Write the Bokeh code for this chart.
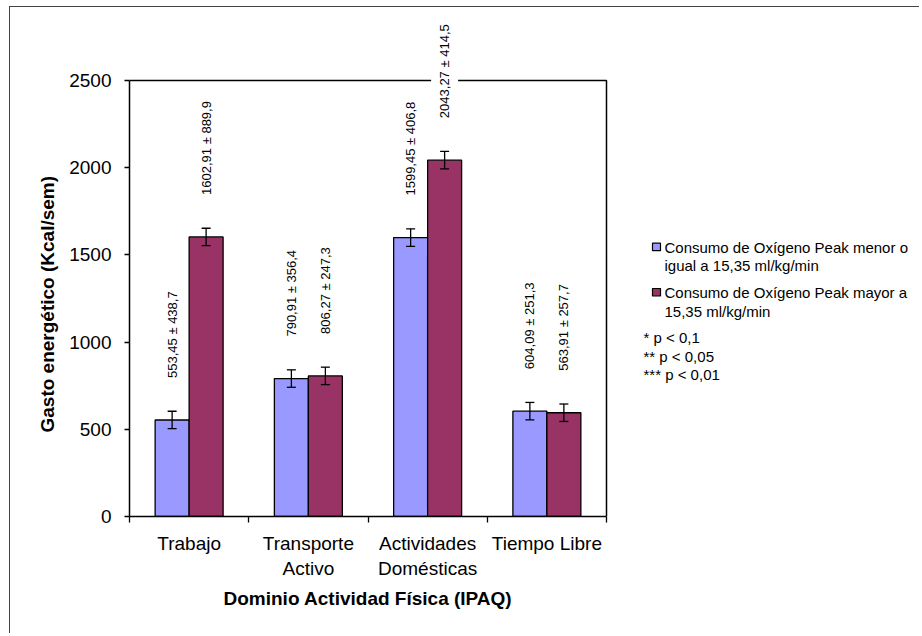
import numpy as np
from bokeh.plotting import figure
from bokeh.models import FixedTicker, Label, Range1d, Title
from bokeh.embed import file_html
from bokeh.resources import INLINE

# ---------------- data ----------------
categories = ["Trabajo", "Transporte\nActivo", "Actividades\nDomésticas", "Tiempo Libre"]
series_low_name = ["Consumo de Oxígeno Peak menor o", "igual a 15,35 ml/kg/min"]
series_high_name = ["Consumo de Oxígeno Peak mayor a", "15,35 ml/kg/min"]
mean_low = [553.45, 790.91, 1599.45, 604.09]
sd_low = [438.7, 356.4, 406.8, 251.3]
mean_high = [1602.91, 806.27, 2043.27, 563.91]
sd_high = [889.9, 247.3, 414.5, 257.7]
bar_low = [553.45, 790.91, 1599.45, 604.09]     # plotted bar heights
bar_high = [1602.91, 806.27, 2043.27, 595.0]
error_bar = 50
y_ticks = [0, 500, 1000, 1500, 2000, 2500]
notes = ["* p < 0,1", "** p < 0,05", "*** p < 0,01"]
x_title = "Dominio Actividad Física (IPAQ)"
y_title = "Gasto energético (Kcal/sem)"

# ---------------- layout (page pixels) ----------------
OX, OY = 10, 7                      # canvas origin on page (after margin + border)
W, H = 910, 627
PA_L, PA_R, PA_T, PA_B = 129, 606, 80, 516   # plot area
YMAX = 2500
NC = len(categories)
FONT = "Liberation Sans"
BLUE, PURPLE = "#9999FF", "#993366"


def dx(px):
    return (px - PA_L) / (PA_R - PA_L) * NC


def dy(py):
    return (PA_B - py) / (PA_B - PA_T) * YMAX


p = figure(width=W, height=H,
           x_range=Range1d(0, dx(OX + W)), y_range=Range1d(0, dy(OY)),
           output_backend="svg", toolbar_location=None,
           min_border_left=PA_L - OX, min_border_top=0,
           min_border_right=0, min_border_bottom=H - (PA_B - OY))
p.styles = {"margin-left": "9px", "margin-top": "6px",
            "border-left": "1px solid #444444", "border-top": "1px solid #444444"}
p.background_fill_color = "white"
p.border_fill_color = "white"
p.outline_line_color = None
p.xgrid.grid_line_color = None
p.ygrid.grid_line_color = None

# plot-area border (top and right)
p.line(x=[0, NC, NC], y=[YMAX, YMAX, 0], line_color="black", line_width=1.5)

bw = 0.285
x_low = [i + 0.5 - bw / 2 for i in range(NC)]
x_high = [i + 0.5 + bw / 2 for i in range(NC)]

p.vbar(x=x_low, top=bar_low, width=bw, fill_color=BLUE, line_color="black", line_width=1.3)
p.vbar(x=x_high, top=bar_high, width=bw, fill_color=PURPLE, line_color="black", line_width=1.3)

cw = 4.5 / (PA_R - PA_L) * NC
for xs, tops in ((x_low, bar_low), (x_high, bar_high)):
    xs = np.array(xs)
    t = np.array(tops)
    p.segment(x0=xs, y0=t - error_bar, x1=xs, y1=t + error_bar, line_color="black", line_width=1.3)
    p.segment(x0=xs - cw, y0=t + error_bar, x1=xs + cw, y1=t + error_bar, line_color="black", line_width=1.3)
    p.segment(x0=xs - cw, y0=t - error_bar, x1=xs + cw, y1=t - error_bar, line_color="black", line_width=1.3)


def fmt(m, s):
    return f"{m:.2f}".replace(".", ",") + " ± " + f"{s:.1f}".replace(".", ",")


for xs, tops, ms, ss in ((x_low, bar_low, mean_low, sd_low), (x_high, bar_high, mean_high, sd_high)):
    for x, t, m, s in zip(xs, tops, ms, ss):
        p.add_layout(Label(x=x, y=t, text=fmt(m, s), angle=np.pi / 2, angle_units="rad",
                           text_align="left", text_baseline="middle", y_offset=36,
                           padding=6, background_fill_color="white",
                           text_font=FONT, text_font_size="13px", text_color="black"))

# axes
p.xaxis.bounds = (0, NC)
p.xaxis.ticker = FixedTicker(ticks=[i + 0.5 for i in range(NC)], minor_ticks=list(range(NC + 1)))
p.xaxis.major_label_overrides = {i + 0.5: c for i, c in enumerate(categories)}
p.xaxis.major_tick_line_color = None
p.xaxis.major_tick_out = 6
p.xaxis.major_tick_in = 0
p.xaxis.minor_tick_out = 6
p.xaxis.minor_tick_in = 0
p.xaxis.minor_tick_line_color = "black"
p.xaxis.minor_tick_line_width = 1.3
p.xaxis.major_label_standoff = 10

p.yaxis.bounds = (0, YMAX)
p.yaxis.ticker = FixedTicker(ticks=y_ticks)
p.yaxis.major_tick_out = 5
p.yaxis.major_tick_in = 0
p.yaxis.minor_tick_line_color = None
p.yaxis.major_label_standoff = 13

for ax in (p.xaxis[0], p.yaxis[0]):
    ax.axis_line_color = "black"
    ax.axis_line_width = 1.5
    ax.major_tick_line_width = 1.3
    ax.major_label_text_font = FONT
    ax.major_label_text_font_size = "19px"
    ax.major_label_text_color = "black"

# axis titles placed relative to the plot area (frame is extended for legend/labels)
p.add_layout(Title(text=x_title, align="left", offset=94, standoff=8,
                   text_font=FONT, text_font_size="19px", text_font_style="bold",
                   text_color="black"), "below")
p.add_layout(Title(text=y_title, align="left", offset=84, standoff=18,
                   text_font=FONT, text_font_size="19px", text_font_style="bold",
                   text_color="black"), "left")

# legend (manual, inside the extended frame)
leg_items = ((BLUE, series_low_name, 242.7), (PURPLE, series_high_name, 288.0))
for color, lines, sq_top in leg_items:
    p.quad(left=dx(652), right=dx(660), top=dy(sq_top), bottom=dy(sq_top + 7.5),
           fill_color=color, line_color="black", line_width=1.2)
    for k, line in enumerate(lines):
        p.add_layout(Label(x=dx(664), y=dy(sq_top + 4 + 18.5 * k), text=line, text_align="left",
                           text_baseline="middle", text_font=FONT, text_font_size="15px",
                           text_color="black"))
for k, note in enumerate(notes):
    p.add_layout(Label(x=dx(643), y=dy(337.3 + 18.5 * k), text=note, text_align="left",
                       text_baseline="middle", text_font=FONT, text_font_size="15px",
                       text_color="black"))

open("out.html", "w").write(file_html(p, INLINE))
